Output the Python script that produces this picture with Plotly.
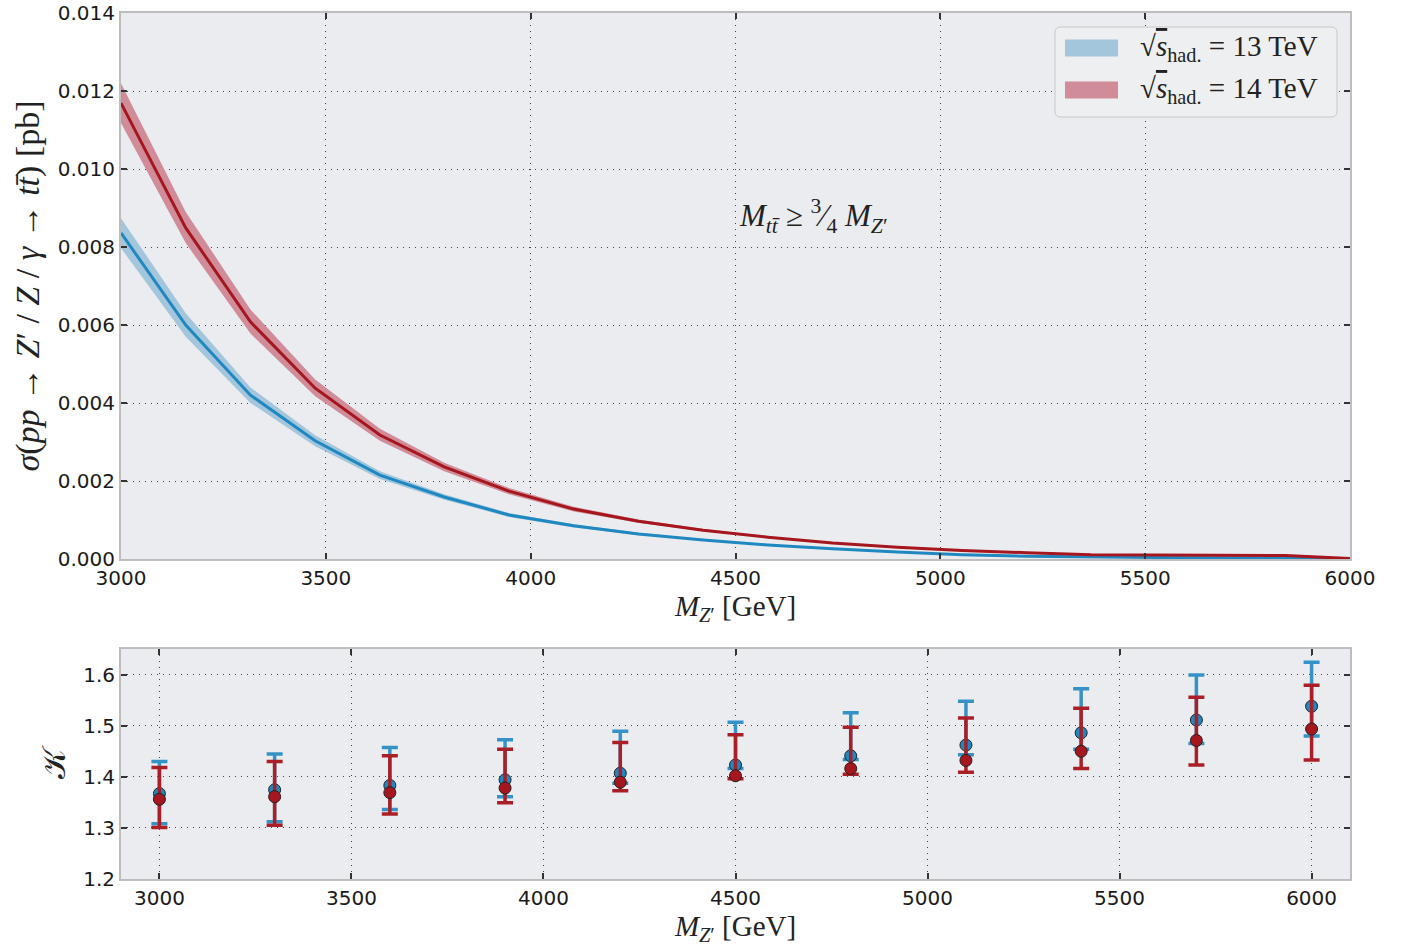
import plotly.graph_objects as go

# ---------------- data ----------------
mass = [3000, 3158, 3316, 3474, 3632, 3789, 3947, 4105, 4263, 4421,
        4579, 4737, 4895, 5053, 5211, 5368, 5526, 5684, 5842, 6000]

red_c = [0.01169, 0.00849, 0.00608, 0.00438, 0.00318, 0.00236, 0.00174, 0.00128, 0.00097, 0.00074,
         0.00056, 0.00041, 0.00030, 0.00022, 0.00016, 0.00011, 0.00010, 0.00010, 0.00009, 0.00001]
red_hi = [0.0122, 0.0089, 0.0064, 0.0046, 0.00334, 0.00247, 0.00182, 0.00134, 0.00101, 0.00077,
          0.00058, 0.00043, 0.00031, 0.00023, 0.00017, 0.000115, 0.000105, 0.000105, 0.000095, 0.000012]
red_lo = [0.01118, 0.0081, 0.00578, 0.00417, 0.00303, 0.00225, 0.00166, 0.00122, 0.00093, 0.00071,
          0.00054, 0.00039, 0.00029, 0.00021, 0.00015, 0.000105, 0.000095, 0.000095, 0.000085, 0.000008]

blue_c = [0.00836, 0.0060, 0.0042, 0.00303, 0.00215, 0.00159, 0.00113, 0.00085, 0.00064, 0.00049,
          0.00036, 0.00026, 0.00018, 0.00011, 0.00007, 0.00005, 0.00004, 0.00003, 0.00002, 0.00001]
blue_hi = [0.00874, 0.0063, 0.0044, 0.00317, 0.00225, 0.00166, 0.00118, 0.00089, 0.00067, 0.00051,
           0.00038, 0.00027, 0.00019, 0.000115, 0.000075, 0.000053, 0.000043, 0.000032, 0.000022, 0.000011]
blue_lo = [0.00797, 0.0057, 0.0040, 0.00289, 0.00205, 0.00152, 0.00108, 0.00081, 0.00061, 0.00047,
           0.00034, 0.00025, 0.00017, 0.000105, 0.000065, 0.000047, 0.000037, 0.000028, 0.000018, 0.000009]

k_mass = [3000, 3300, 3600, 3900, 4200, 4500, 4800, 5100, 5400, 5700, 6000]
k13 = [1.367, 1.3745, 1.383, 1.394, 1.407, 1.423, 1.441, 1.462, 1.486, 1.511, 1.538]
k13_up = [1.430, 1.4445, 1.4575, 1.4725, 1.489, 1.5065, 1.5255, 1.548, 1.572, 1.599, 1.624]
k13_dn = [1.308, 1.312, 1.336, 1.361, 1.3875, 1.416, 1.434, 1.443, 1.454, 1.465, 1.480]
k14 = [1.356, 1.361, 1.369, 1.378, 1.3895, 1.402, 1.416, 1.432, 1.450, 1.471, 1.4935]
k14_up = [1.418, 1.430, 1.441, 1.454, 1.467, 1.482, 1.497, 1.515, 1.534, 1.5555, 1.579]
k14_dn = [1.301, 1.305, 1.327, 1.349, 1.3725, 1.396, 1.405, 1.409, 1.416, 1.423, 1.433]

legend_labels = ["13 TeV", "14 TeV"]

BLUE = "#1f88c0"
RED = "#a5161e"
BLUE_BAND = "#a4c6dc"
RED_BAND = "#d08c98"
SERIF = "Liberation Serif, DejaVu Serif, serif"
SANS = "DejaVu Sans, sans-serif"

fig = go.Figure()

# 13 TeV band + line
fig.add_trace(go.Scatter(x=mass, y=blue_lo, mode="lines", line=dict(width=0),
                         showlegend=False, hoverinfo="skip", xaxis="x", yaxis="y"))
fig.add_trace(go.Scatter(x=mass, y=blue_hi, mode="lines", line=dict(width=0),
                         fill="tonexty", fillcolor=BLUE_BAND, showlegend=False,
                         xaxis="x", yaxis="y"))
fig.add_trace(go.Scatter(x=mass, y=blue_c, mode="lines", line=dict(color=BLUE, width=3),
                         showlegend=False, xaxis="x", yaxis="y"))
# 14 TeV band + line
fig.add_trace(go.Scatter(x=mass, y=red_lo, mode="lines", line=dict(width=0),
                         showlegend=False, hoverinfo="skip", xaxis="x", yaxis="y"))
fig.add_trace(go.Scatter(x=mass, y=red_hi, mode="lines", line=dict(width=0),
                         fill="tonexty", fillcolor=RED_BAND, showlegend=False,
                         xaxis="x", yaxis="y"))
fig.add_trace(go.Scatter(x=mass, y=red_c, mode="lines", line=dict(color=RED, width=3),
                         showlegend=False, xaxis="x", yaxis="y"))

# K-factor panel
fig.add_trace(go.Scatter(
    x=k_mass, y=k13, mode="markers", showlegend=False, xaxis="x2", yaxis="y2",
    marker=dict(color=BLUE, size=12, line=dict(color="#222222", width=1)),
    error_y=dict(type="data", symmetric=False,
                 array=[u - c for u, c in zip(k13_up, k13)],
                 arrayminus=[c - d for c, d in zip(k13, k13_dn)],
                 color="#3592c6", thickness=3.5, width=8)))
fig.add_trace(go.Scatter(
    x=k_mass, y=k14, mode="markers", showlegend=False, xaxis="x2", yaxis="y2",
    marker=dict(color=RED, size=12, line=dict(color="#222222", width=1)),
    error_y=dict(type="data", symmetric=False,
                 array=[u - c for u, c in zip(k14_up, k14)],
                 arrayminus=[c - d for c, d in zip(k14, k14_dn)],
                 color="#aa1f27", thickness=3.5, width=8)))

axis_common = dict(
    automargin=False, ticklabeloverflow="allow",
    showline=True, linecolor="#bdbdbd", linewidth=2, mirror="ticks",
    ticks="inside", ticklen=6, tickcolor="#333333", tickwidth=1.5,
    showgrid=True, gridcolor="#444444", gridwidth=1.2, griddash="1px,5px",
    zeroline=False, tickfont=dict(family=SANS, size=20, color="#1a1a1a"),
)

W, H = 1409, 952
# plot area in page pixels
PL, PR, PT, PB = 121, 1350, 13, 879


def px(x):
    return (x - PL) / (PR - PL)


def py(y):
    return (PB - y) / (PB - PT)


def rounded_box(x0, y0, x1, y1, r=6):
    X0, X1 = px(x0), px(x1)
    Y0, Y1 = py(y0), py(y1)
    rx = r / (PR - PL)
    ry = r / (PB - PT)
    return (f"M {X0+rx},{Y0} L {X1-rx},{Y0} Q {X1},{Y0} {X1},{Y0-ry} "
            f"L {X1},{Y1+ry} Q {X1},{Y1} {X1-rx},{Y1} L {X0+rx},{Y1} "
            f"Q {X0},{Y1} {X0},{Y1+ry} L {X0},{Y0-ry} Q {X0},{Y0} {X0+rx},{Y0} Z")


shapes = [
    dict(type="path", xref="paper", yref="paper", path=rounded_box(1055, 27, 1337, 117),
         fillcolor="#eeeff1", line=dict(color="#c8c8c8", width=1), layer="above"),
]
annotations = []
for i, (lab, col) in enumerate(zip(legend_labels, [BLUE_BAND, RED_BAND])):
    yc = 48 + 42 * i
    shapes.append(dict(type="rect", xref="paper", yref="paper",
                       x0=px(1065), x1=px(1118), y0=py(yc - 8.5), y1=py(yc + 8.5),
                       fillcolor=col, line=dict(width=0), layer="above"))
    annotations.append(dict(
        x=px(1138), y=py(yc), xref="paper", yref="paper", xanchor="left", yanchor="middle",
        showarrow=False,
        text="√<span style='text-decoration:overline'><i>s</i></span><sub>had.</sub> = " + lab,
        font=dict(family=SERIF, size=29, color="#222")))

annotations.append(dict(x=4690, y=0.0088, xref="x", yref="y", showarrow=False,
                        text="<i>M</i><sub><i>tt̄</i></sub> ≥ <sup>3</sup>⁄<sub>4</sub> <i>M</i><sub><i>Z</i>′</sub>",
                        font=dict(family=SERIF, size=31, color="#222")))

fig.update_layout(
    width=W, height=H,
    margin=dict(l=PL, r=W - PR, t=PT, b=H - PB),
    paper_bgcolor="white", plot_bgcolor="#ebecef",
    showlegend=False,
    xaxis=dict(domain=[0, 1], anchor="y", range=[3000, 6000], dtick=500, tick0=3000,
               title=dict(text="<i>M</i><sub><i>Z</i>′</sub> [GeV]", font=dict(family=SERIF, size=29, color="#222"),
                          standoff=6),
               **axis_common),
    yaxis=dict(domain=[py(559), 1], anchor="x", range=[0, 0.014], dtick=0.002, tickformat=".3f",
               title=dict(text="<i>σ</i>(<i>pp</i> → <i>Z</i>′ / <i>Z</i> / <i>γ</i> → <i>t</i><i>t̄</i>) [pb]",
                          font=dict(family=SERIF, size=34, color="#222"), standoff=8),
               **axis_common),
    xaxis2=dict(domain=[0, 1], anchor="y2", range=[2900, 6100], dtick=500, tick0=3000,
                title=dict(text="<i>M</i><sub><i>Z</i>′</sub> [GeV]", font=dict(family=SERIF, size=29, color="#222"),
                           standoff=6),
                **axis_common),
    yaxis2=dict(domain=[0, py(649)], anchor="x2", range=[1.2, 1.65], dtick=0.1, tick0=1.2, tickformat=".1f",
                title=dict(text="𝒦", font=dict(family=SERIF, size=32, color="#222"), standoff=8),
                **axis_common),
    shapes=shapes,
    annotations=annotations,
)

# remove the browser's default body margin so the figure fills the window exactly
fig.write_html("out.html",
               config={"displayModeBar": False},
               post_script="document.body.style.margin='0';document.body.style.overflow='hidden';")
